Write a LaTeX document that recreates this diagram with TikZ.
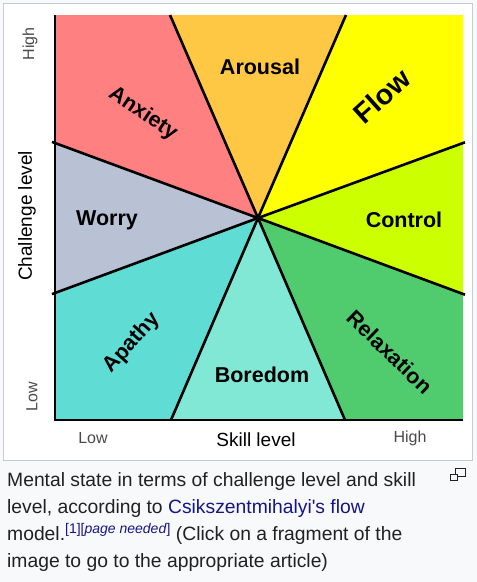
\documentclass[tikz,border=0pt]{standalone}
\usepackage{fontspec}
\setmainfont{Liberation Sans}
\definecolor{fzAnxiety}{HTML}{FF8080}
\definecolor{fzArousal}{HTML}{FFC844}
\definecolor{fzFlow}{HTML}{FFFF00}
\definecolor{fzControl}{HTML}{CCFF00}
\definecolor{fzRelax}{HTML}{50CC6E}
\definecolor{fzBoredom}{HTML}{82E8D6}
\definecolor{fzApathy}{HTML}{5FDDD5}
\definecolor{fzWorry}{HTML}{B8C2D4}
\definecolor{fzGray}{HTML}{4A4A4A}
\definecolor{fzText}{HTML}{202122}
\definecolor{fzLink}{HTML}{151585}
\definecolor{fzPage}{HTML}{F8F9FA}
\definecolor{fzFrame}{HTML}{C8CCD1}
\tikzset{
  fz split/.style={draw=black, line width=2.6pt},
  fz axis/.style={draw=black, line width=2pt},
  fz label/.style={font=\bfseries\fontsize{21.5}{24}\selectfont, inner sep=0pt},
  fz tick label/.style={font=\fontsize{16}{18}\selectfont, text=fzGray, inner sep=0pt},
  fz axis label/.style={font=\fontsize{19}{22}\selectfont, inner sep=0pt},
  fz caption/.style={font=\fontsize{19.3}{27}\selectfont, text=fzText, anchor=base west, inner sep=0pt},
}

\begin{document}
\begin{tikzpicture}[x=1pt,y=-1pt]
  \useasboundingbox (0,0) rectangle (477,582);
  \fill[fzPage] (0,0) rectangle (477,582);
  \draw[fzFrame, fill=white, line width=1pt] (3.5,3.5) rectangle (472.5,460);
  % plot corners and sector edges
  \coordinate (tl) at (55,15);   \coordinate (tr) at (463,15);
  \coordinate (bl) at (55,420);  \coordinate (br) at (463,420);
  \coordinate (c) at (258,218);
  \coordinate (a1) at (170,15);  \coordinate (a2) at (346,15);
  \coordinate (f1) at (463,143); \coordinate (r1) at (463,294);
  \coordinate (b2) at (345,420); \coordinate (b1) at (171,420);
  \coordinate (w2) at (55,293);  \coordinate (w1) at (55,143);
  % line ends a bit past the plot
  \coordinate (w1x) at (52,141.9); \coordinate (w2x) at (52,294.1);
  \coordinate (f1x) at (465,142.3); \coordinate (r1x) at (465,294.7);
  % sectors
  \fill[fzAnxiety] (tl) -- (a1) -- (c) -- (w1) -- cycle;
  \fill[fzArousal] (a1) -- (a2) -- (c) -- cycle;
  \fill[fzFlow] (a2) -- (tr) -- (f1) -- (c) -- cycle;
  \fill[fzControl] (f1) -- (r1) -- (c) -- cycle;
  \fill[fzRelax] (r1) -- (br) -- (b2) -- (c) -- cycle;
  \fill[fzBoredom] (b2) -- (b1) -- (c) -- cycle;
  \fill[fzApathy] (b1) -- (bl) -- (w2) -- (c) -- cycle;
  \fill[fzWorry] (w2) -- (w1) -- (c) -- cycle;
  \foreach \p in {a1,a2,f1x,r1x,b2,b1,w2x,w1x}{\draw[fz split] (c) -- (\p);}
  % axes
  \draw[fz axis] (tl) -- (bl) -- (br);
  % sector labels
  \node[fz label] (arousal) at (260,67) {Arousal};
  \node[fz label, rotate=-34] (anxiety) at (143,114) {Anxiety};
  \node[fz label, font=\bfseries\fontsize{28.5}{30}\selectfont, rotate=42] (flow) at (382,96) {Flow};
  \node[fz label] (worry) at (107,220) {Worry};
  \node[fz label] (control) at (404,220) {Control};
  \node[fz label, rotate=48] (apathy) at (132,343) {Apathy};
  \node[fz label] (boredom) at (262,375) {Boredom};
  \node[fz label, rotate=-44] (relax) at (390,352) {Relaxation};
  % axis texts
  \node[fz tick label, rotate=90] (yhigh) at (30,44) {High};
  \node[fz axis label, rotate=90] (ylab) at (27,216) {Challenge level};
  \node[fz tick label, rotate=90] (ylow) at (32,397) {Low};
  \node[fz tick label] (xlow) at (93,438) {Low};
  \node[fz axis label] (xlab) at (256,440) {Skill level};
  \node[fz tick label] (xhigh) at (410,438) {High};
  % caption
  \node[fz caption] (cap1) at (7,486.5) {Mental state in terms of challenge level and skill};
  \node[fz caption] (cap2) at (7,513.5) {level, according to \textcolor{fzLink}{Csikszentmihalyi\textquotesingle s flow}};
  \node[fz caption] (cap3) at (7,540.5) {model.\raisebox{7pt}{\fontsize{14}{14}\selectfont\color{fzLink}[1][\textit{page needed}]} (Click on a fragment of the};
  \node[fz caption] (cap4) at (7,567.5) {image to go to the appropriate article)};
  % enlarge icon
  \draw[fzText, line width=1pt] (455.5,468.5) rectangle (465.5,476.5);
  \draw[fzText, fill=fzPage, line width=1pt] (450.5,474.5) rectangle (457.5,480.5);
\end{tikzpicture}
\end{document}
